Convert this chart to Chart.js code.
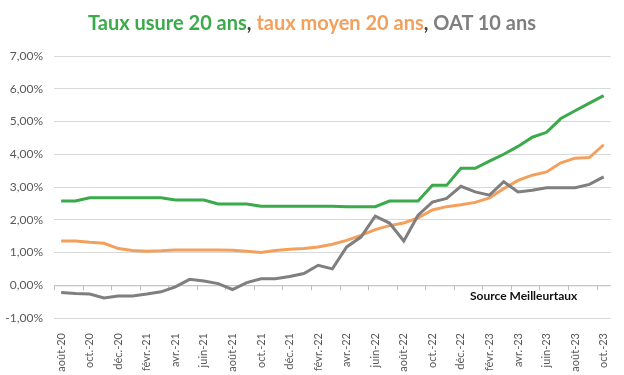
<!DOCTYPE html>
<html>
<head>
<meta charset="utf-8">
<script src="https://cdn.jsdelivr.net/npm/chart.js@4/dist/chart.umd.min.js"></script>
<style>
  html, body { margin: 0; padding: 0; background: #fff; }
  #wrap { position: relative; width: 624px; height: 375px; }
  #titre {
    position: absolute; left: 0; top: 10px; width: 624px; text-align: center;
    font-family: Lato, sans-serif; font-weight: bold; font-size: 20px; color: #404040;
  }
  #source {
    position: absolute; left: 470px; top: 288px;
    font-family: Lato, sans-serif; font-weight: bold; font-size: 12px; color: #111;
  }
</style>
</head>
<body>
<div id="wrap">
  <canvas id="tauxChart" width="624" height="375"></canvas>
  <div id="titre"><span style="color:#3aaa4a">Taux usure 20 ans</span>, <span style="color:#f2a05c">taux moyen 20 ans</span>, <span style="color:#7f7f7f">OAT 10 ans</span></div>
  <div id="source">Source Meilleurtaux</div>
</div>
<script>
// mois, d'août 2020 à octobre 2023
const mois = [
    'août-20', 'sept.-20', 'oct.-20', 'nov.-20', 'déc.-20',
    'janv.-21', 'févr.-21', 'mars-21', 'avr.-21', 'mai-21', 'juin-21', 'juil.-21', 'août-21', 'sept.-21', 'oct.-21', 'nov.-21', 'déc.-21',
    'janv.-22', 'févr.-22', 'mars-22', 'avr.-22', 'mai-22', 'juin-22', 'juil.-22', 'août-22', 'sept.-22', 'oct.-22', 'nov.-22', 'déc.-22',
    'janv.-23', 'févr.-23', 'mars-23', 'avr.-23', 'mai-23', 'juin-23', 'juil.-23', 'août-23', 'sept.-23', 'oct.-23'
];

const tauxUsure = [
    2.57, 2.57, 2.67, 2.67, 2.67, 2.67, 2.67, 2.67, 2.60, 2.60,
    2.60, 2.48, 2.48, 2.48, 2.41, 2.41, 2.41, 2.41, 2.41, 2.41,
    2.40, 2.40, 2.40, 2.57, 2.57, 2.57, 3.05, 3.05, 3.57, 3.57,
    3.79, 4.00, 4.24, 4.52, 4.67, 5.09, 5.33, 5.56, 5.79
];

const tauxMoyen = [
    1.35, 1.35, 1.31, 1.28, 1.12, 1.06, 1.04, 1.05, 1.08, 1.08,
    1.08, 1.08, 1.07, 1.04, 1.00, 1.06, 1.10, 1.12, 1.17, 1.25,
    1.37, 1.52, 1.70, 1.82, 1.90, 2.06, 2.30, 2.40, 2.46, 2.53,
    2.67, 2.95, 3.20, 3.36, 3.46, 3.74, 3.88, 3.90, 4.29
];

const oat10 = [
    -0.22, -0.25, -0.27, -0.39, -0.33, -0.33, -0.27, -0.20, -0.05, 0.18,
    0.13, 0.05, -0.13, 0.08, 0.20, 0.20, 0.27, 0.36, 0.61, 0.50,
    1.17, 1.47, 2.11, 1.90, 1.35, 2.14, 2.54, 2.65, 3.02, 2.85,
    2.75, 3.16, 2.85, 2.90, 2.98, 2.98, 2.98, 3.08, 3.31
];

const couleurs = {
    usure: '#3aaa4a',
    moyen: '#f2a05c',
    oat: '#7f7f7f'
};

// petits traits sous la ligne 0 %, toutes les 2 catégories (comme Excel)
const traitsZero = {
    id: 'traitsZero',
    beforeDatasetsDraw(chart) {
        const x = chart.scales.x;
        const y = chart.scales.y;
        const ctx = chart.ctx;
        const y0 = y.getPixelForValue(0);
        const pas = x.getPixelForValue(1) - x.getPixelForValue(0);
        ctx.save();
        ctx.strokeStyle = '#bfbfbf';
        ctx.lineWidth = 1;
        ctx.beginPath();
        ctx.moveTo(chart.chartArea.left, y0 + 0.5);
        ctx.lineTo(chart.chartArea.right, y0 + 0.5);
        for (let i = 0; i <= mois.length; i += 2) {
            const px = Math.round(x.getPixelForValue(i) - pas / 2) + 0.5;
            ctx.moveTo(px, y0);
            ctx.lineTo(px, y0 + 5);
        }
        ctx.stroke();
        ctx.restore();
    }
};

function serie(label, data, couleur) {
    return {
        label: label,
        data: data,
        borderColor: couleur,
        backgroundColor: couleur,
        borderWidth: 3,
        pointRadius: 0,
        tension: 0,
        fill: false
    };
}

const ctx = document.getElementById('tauxChart').getContext('2d');
new Chart(ctx, {
    type: 'line',
    data: {
        labels: mois,
        datasets: [
            serie('OAT 10 ans', oat10, couleurs.oat),
            serie('Taux moyen 20 ans', tauxMoyen, couleurs.moyen),
            serie('Taux usure 20 ans', tauxUsure, couleurs.usure)
        ]
    },
    plugins: [traitsZero],
    options: {
        responsive: false,
        animation: false,
        layout: {
            padding: { top: 56, right: 10, bottom: 0, left: 0 }
        },
        plugins: {
            legend: { display: false },
            title: { display: false },
            tooltip: { enabled: false }
        },
        scales: {
            y: {
                min: -1,
                max: 7,
                ticks: {
                    stepSize: 1,
                    padding: 11,
                    color: '#595959',
                    font: { family: 'Lato', size: 12 },
                    callback: v => v.toFixed(2).replace('.', ',') + '%'
                },
                grid: { color: '#d9d9d9', drawTicks: false },
                border: { display: false },
                afterFit: scale => { scale.width = 54; }
            },
            x: {
                offset: true,
                ticks: {
                    autoSkip: false,
                    maxRotation: 90,
                    minRotation: 90,
                    padding: 7,
                    color: '#595959',
                    font: { family: 'Lato', size: 11 },
                    callback: function(v, i) {
                        return i % 2 === 0 ? mois[i] : '';
                    }
                },
                grid: { display: false },
                border: { display: false },
                afterFit: scale => { scale.height = 57; }
            }
        }
    }
});
</script>
</body>
</html>
